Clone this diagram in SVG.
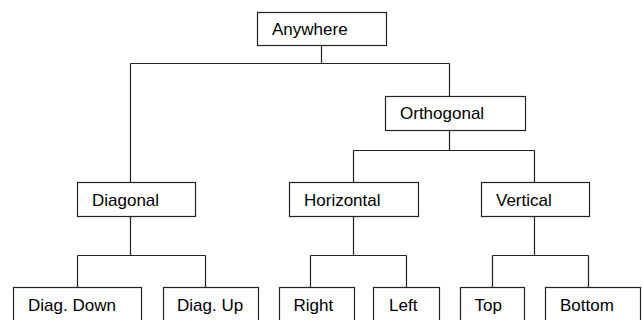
<svg xmlns="http://www.w3.org/2000/svg" width="642" height="320" viewBox="0 0 642 320">
<style>
rect{fill:#fff;stroke:#222;stroke-width:1.2}
text{font-family:"Liberation Sans",Arial,sans-serif;font-size:17px;fill:#000}
#connectors path{fill:none;stroke:#222;stroke-width:1.2}
</style>
<rect x="0" y="0" width="642" height="320" style="stroke:none"/>
<g id="connectors">
<path d="M321.5 45V63.5M130.5 63.5H449.5M130.5 63.5V182M449.5 63.5V96"/>
<path d="M449.5 130V150.5M353.5 150.5H534.5M353.5 150.5V182M534.5 150.5V182"/>
<path d="M130.5 216V255.5M77.5 255.5H205.5M77.5 255.5V287M205.5 255.5V287"/>
<path d="M353.5 216V255.5M310.5 255.5H406.5M310.5 255.5V287M406.5 255.5V287"/>
<path d="M534.5 216V255.5M492.5 255.5H588.5M492.5 255.5V287M588.5 255.5V287"/>
</g>
<g id="anywhere"><rect x="257.5" y="12.5" width="129" height="33"/><text x="272" y="35">Anywhere</text></g>
<g id="orthogonal"><rect x="385.5" y="96.5" width="140" height="34"/><text x="400" y="119">Orthogonal</text></g>
<g id="diagonal"><rect x="77.5" y="182.5" width="118" height="34"/><text x="92" y="206">Diagonal</text></g>
<g id="horizontal"><rect x="289.5" y="182.5" width="129" height="34"/><text x="304" y="206">Horizontal</text></g>
<g id="vertical"><rect x="481.5" y="182.5" width="108" height="34"/><text x="496" y="206">Vertical</text></g>
<g id="diag-down"><rect x="13.5" y="287.5" width="128" height="40"/><text x="28" y="311">Diag. Down</text></g>
<g id="diag-up"><rect x="163.5" y="287.5" width="95" height="40"/><text x="177" y="311">Diag. Up</text></g>
<g id="right"><rect x="279.5" y="287.5" width="75" height="40"/><text x="293.5" y="311">Right</text></g>
<g id="left"><rect x="373.5" y="287.5" width="66" height="40"/><text x="389" y="311">Left</text></g>
<g id="top"><rect x="460.5" y="287.5" width="64" height="40"/><text x="474.5" y="311">Top</text></g>
<g id="bottom"><rect x="545.5" y="287.5" width="95" height="40"/><text x="560" y="311">Bottom</text></g>
</svg>
